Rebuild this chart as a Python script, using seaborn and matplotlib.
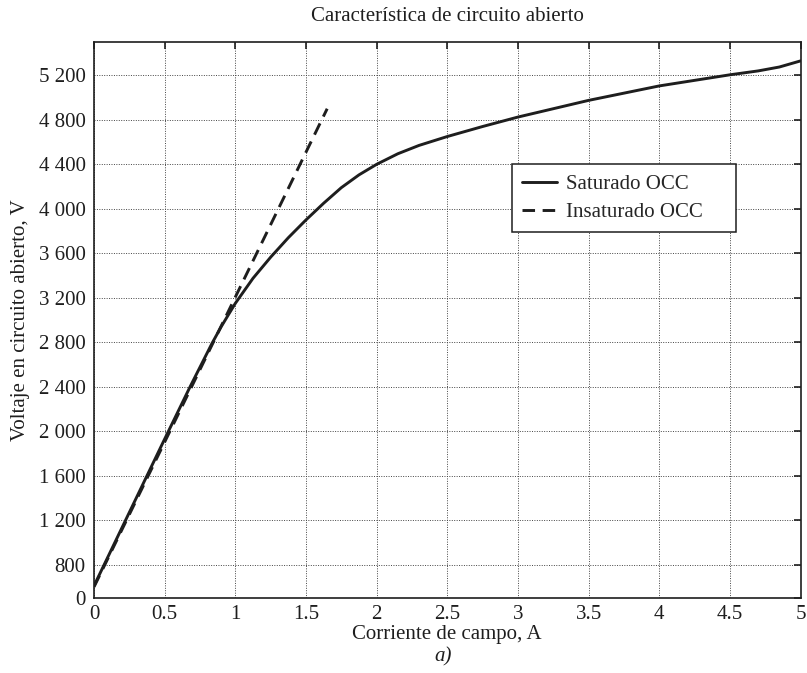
import numpy as np
import pandas as pd
import matplotlib
matplotlib.use("Agg")
import matplotlib.pyplot as plt
import seaborn as sns

# ── Data ──────────────────────────────────────────────────────────────────────
field_current = [0.0, 0.25, 0.5, 0.68, 0.835, 0.9, 1.0, 1.125, 1.25, 1.375,
                 1.5, 1.625, 1.75, 1.875, 2.0, 2.15, 2.3, 2.5, 2.75, 3.0,
                 3.25, 3.5, 3.75, 4.0, 4.25, 4.5, 4.7, 4.85, 5.0]
occ_saturated = [610, 1270, 1930, 2400, 2790, 2940, 3150, 3375, 3565, 3740,
                 3900, 4050, 4190, 4305, 4400, 4495, 4570, 4650, 4740, 4825,
                 4900, 4975, 5040, 5105, 5155, 5205, 5240, 5275, 5330]

unsat_current = [0.0, 1.65]
occ_unsaturated = [600, 4900]

x_ticks = [0, 0.5, 1, 1.5, 2, 2.5, 3, 3.5, 4, 4.5, 5]
x_labels = ["0", "0.5", "1", "1.5", "2", "2.5", "3", "3.5", "4", "4.5", "5"]
y_ticks = [500, 800, 1200, 1600, 2000, 2400, 2800, 3200, 3600, 4000, 4400, 4800, 5200]
y_labels = ["0", "800", "1 200", "1 600", "2 000", "2 400", "2 800", "3 200",
            "3 600", "4 000", "4 400", "4 800", "5 200"]

sat_df = pd.DataFrame({"I": field_current, "V": occ_saturated})
unsat_df = pd.DataFrame({"I": unsat_current, "V": occ_unsaturated})

# ── Style ─────────────────────────────────────────────────────────────────────
sns.set_style("white")
plt.rcParams["font.family"] = ["Liberation Serif", "DejaVu Serif"]
plt.rcParams["font.size"] = 15
INK = "#1e1e1e"

fig = plt.figure(figsize=(8.07, 6.73), dpi=100)
ax = fig.add_axes([0.1165, 0.1114, 0.8755, 0.8262])

sns.lineplot(data=sat_df, x="I", y="V", ax=ax, color=INK,
             linewidth=2.1, label="Saturado OCC")
sns.lineplot(data=unsat_df, x="I", y="V", ax=ax, color=INK,
             linewidth=2.1, linestyle=(0, (4.3, 2.6)), label="Insaturado OCC")

ax.set_xlim(0, 5)
ax.set_ylim(500, 5500)
ax.set_xticks(x_ticks)
ax.set_xticklabels(x_labels)
ax.set_yticks(y_ticks)
ax.set_yticklabels(y_labels)

ax.grid(True, color="#444444", linestyle=(0, (1, 1.5)), linewidth=0.7)
ax.tick_params(direction="in", length=5, width=1.2, top=True, right=True,
               labelsize=15, colors=INK)
ax.tick_params(axis="x", pad=5)
ax.tick_params(axis="y", pad=6)
for sp in ax.spines.values():
    sp.set_color(INK)
    sp.set_linewidth(1.2)

ax.set_title("Característica de circuito abierto", fontsize=15, pad=15, color=INK)
ax.set_xlabel("Corriente de campo, A", fontsize=15, labelpad=1, color=INK)
ax.set_ylabel("Voltaje en circuito abierto, V", fontsize=15, labelpad=6, color=INK)
fig.text(0.549, 0.024, "a)", fontsize=15, style="italic", ha="center",
         va="center", color=INK)

# legend box is wider than its contents in the reference -> expand mode
leg = ax.legend(loc="upper left", bbox_to_anchor=(0.5915, 0.5, 0.317, 0.2806),
                mode="expand", borderaxespad=0, fontsize=15, fancybox=False,
                framealpha=1, edgecolor=INK, handlelength=1.65,
                handletextpad=0.45, borderpad=0.5, labelspacing=0.4)
leg.get_frame().set_linewidth(1.1)

fig.savefig("out.png", dpi=100)
